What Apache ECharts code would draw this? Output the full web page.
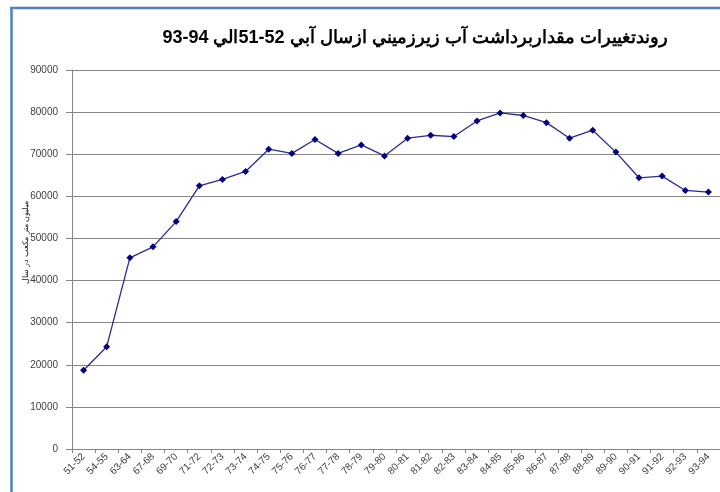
<!DOCTYPE html>
<html>
<head>
<meta charset="utf-8">
<script src="https://cdn.jsdelivr.net/npm/echarts@6/dist/echarts.min.js"></script>
<style>
    html, body { margin: 0; padding: 0; background: #fff; }
    #palarmcon { width: 720px; height: 492px; }
</style>
</head>
<body>
<div id="palarmcon"></div>
<script>
// سال آبي (X axis categories)
var years = ['51-52', '54-55', '63-64', '67-68', '69-70', '71-72', '72-73', '73-74', '74-75', '75-76',
    '76-77', '77-78', '78-79', '79-80', '80-81', '81-82', '82-83', '83-84', '84-85', '85-86',
    '86-87', '87-88', '88-89', '89-90', '90-91', '91-92', '92-93', '93-94'];
// برداشت (ميليون متر مكعب)
var nums = [18700, 24300, 45400, 48000, 54000, 62500, 64000, 65900, 71200, 70200,
    73500, 70200, 72200, 69600, 73800, 74500, 74200, 77900, 79800, 79200,
    77500, 73800, 75700, 70500, 64400, 64800, 61400, 61000];

var titleText = '\u202Bروندتغييرات مقداربرداشت آب زيرزميني ازسال آبي 52-51الي 94-93\u202C';
var yName = '\u202Bميليون متر مكعب در سال\u202C';

function alarmChart() {
    var myChart = echarts.init(document.getElementById('palarmcon'));
    var frameColor = '#4F81BD';
    myChart.setOption({
        animation: false,
        title: {
            text: titleText,
            left: 410,
            top: 24,
            textAlign: 'center',
            textStyle: {
                fontFamily: 'Arial, "Liberation Sans", sans-serif',
                fontSize: 18,
                fontWeight: 'bold',
                color: '#000'
            }
        },
        graphic: [
            { type: 'line', shape: { x1: 10, y1: 8, x2: 720, y2: 8 }, style: { stroke: frameColor, lineWidth: 2.5 } },
            { type: 'line', shape: { x1: 11.5, y1: 7, x2: 11.5, y2: 492 }, style: { stroke: frameColor, lineWidth: 2.5 } }
        ],
        grid: {
            left: 72,
            top: 70,
            width: 650,
            bottom: 43
        },
        xAxis: {
            type: 'category',
            data: years,
            axisLine: { lineStyle: { color: '#868686', width: 1 } },
            axisTick: { show: true, length: 4, lineStyle: { color: '#868686' } },
            axisLabel: {
                rotate: 45,
                fontSize: 10,
                fontFamily: 'Arial, "Liberation Sans", sans-serif',
                color: '#404040',
                margin: 6,
                interval: 0
            }
        },
        yAxis: {
            type: 'value',
            min: 0,
            max: 90000,
            interval: 10000,
            name: yName,
            nameLocation: 'middle',
            nameRotate: 90,
            nameGap: 42,
            nameMoveOverlap: false,
            nameTextStyle: {
                fontSize: 8,
                fontFamily: 'Arial, "Liberation Sans", sans-serif',
                color: '#222',
                padding: [0, 0, 0, 34]
            },
            axisLine: { show: true, lineStyle: { color: '#868686', width: 1 } },
            axisTick: { show: true, length: 6, lineStyle: { color: '#868686' } },
            axisLabel: {
                fontSize: 10,
                fontFamily: 'Arial, "Liberation Sans", sans-serif',
                color: '#404040',
                margin: 14,
                formatter: function (v) { return String(v); }
            },
            splitLine: { lineStyle: { color: '#868686', width: 1 } }
        },
        series: [{
            name: 'برداشت',
            type: 'line',
            data: nums,
            symbol: 'diamond',
            symbolSize: 7,
            lineStyle: { color: '#2B2B96', width: 1.3 },
            itemStyle: { color: '#000080' }
        }]
    });
}

alarmChart();
</script>
</body>
</html>
